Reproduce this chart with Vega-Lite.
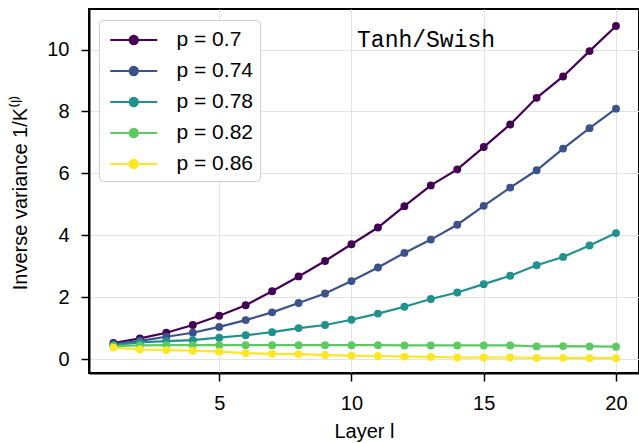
{
  "$schema": "https://vega.github.io/schema/vega-lite/v6.json",
  "width": 550,
  "height": 364,
  "autosize": {"type": "none"},
  "padding": {"left": 89, "top": 9, "right": 0, "bottom": 70},
  "background": "white",
  "config": {
    "view": {"stroke": "black", "strokeWidth": 2},
    "font": "Liberation Sans",
    "axis": {
      "grid": true, "gridColor": "#e3e3e3", "gridWidth": 1,
      "domainColor": "black", "domainWidth": 2,
      "tickColor": "black", "tickWidth": 1.5, "tickSize": 8,
      "labelFontSize": 20, "labelColor": "black", "labelPadding": 12, "labelFont": "Liberation Sans",
      "titleFontSize": 20, "titleFontWeight": "normal", "titleColor": "black", "titleFont": "Liberation Sans"
    }
  },
  "data": {"values": [
    {"layer":1,"p":"p = 0.7","v":0.52},{"layer":2,"p":"p = 0.7","v":0.67},{"layer":3,"p":"p = 0.7","v":0.85},{"layer":4,"p":"p = 0.7","v":1.10},{"layer":5,"p":"p = 0.7","v":1.40},
    {"layer":6,"p":"p = 0.7","v":1.74},{"layer":7,"p":"p = 0.7","v":2.19},{"layer":8,"p":"p = 0.7","v":2.67},{"layer":9,"p":"p = 0.7","v":3.17},{"layer":10,"p":"p = 0.7","v":3.71},
    {"layer":11,"p":"p = 0.7","v":4.25},{"layer":12,"p":"p = 0.7","v":4.94},{"layer":13,"p":"p = 0.7","v":5.61},{"layer":14,"p":"p = 0.7","v":6.13},{"layer":15,"p":"p = 0.7","v":6.85},
    {"layer":16,"p":"p = 0.7","v":7.58},{"layer":17,"p":"p = 0.7","v":8.44},{"layer":18,"p":"p = 0.7","v":9.13},{"layer":19,"p":"p = 0.7","v":9.95},{"layer":20,"p":"p = 0.7","v":10.76},
    {"layer":1,"p":"p = 0.74","v":0.48},{"layer":2,"p":"p = 0.74","v":0.59},{"layer":3,"p":"p = 0.74","v":0.72},{"layer":4,"p":"p = 0.74","v":0.85},{"layer":5,"p":"p = 0.74","v":1.04},
    {"layer":6,"p":"p = 0.74","v":1.26},{"layer":7,"p":"p = 0.74","v":1.51},{"layer":8,"p":"p = 0.74","v":1.81},{"layer":9,"p":"p = 0.74","v":2.12},{"layer":10,"p":"p = 0.74","v":2.52},
    {"layer":11,"p":"p = 0.74","v":2.96},{"layer":12,"p":"p = 0.74","v":3.43},{"layer":13,"p":"p = 0.74","v":3.86},{"layer":14,"p":"p = 0.74","v":4.34},{"layer":15,"p":"p = 0.74","v":4.95},
    {"layer":16,"p":"p = 0.74","v":5.54},{"layer":17,"p":"p = 0.74","v":6.10},{"layer":18,"p":"p = 0.74","v":6.80},{"layer":19,"p":"p = 0.74","v":7.46},{"layer":20,"p":"p = 0.74","v":8.09},
    {"layer":1,"p":"p = 0.78","v":0.45},{"layer":2,"p":"p = 0.78","v":0.54},{"layer":3,"p":"p = 0.78","v":0.58},{"layer":4,"p":"p = 0.78","v":0.61},{"layer":5,"p":"p = 0.78","v":0.69},
    {"layer":6,"p":"p = 0.78","v":0.77},{"layer":7,"p":"p = 0.78","v":0.87},{"layer":8,"p":"p = 0.78","v":1.00},{"layer":9,"p":"p = 0.78","v":1.10},{"layer":10,"p":"p = 0.78","v":1.27},
    {"layer":11,"p":"p = 0.78","v":1.47},{"layer":12,"p":"p = 0.78","v":1.69},{"layer":13,"p":"p = 0.78","v":1.94},{"layer":14,"p":"p = 0.78","v":2.15},{"layer":15,"p":"p = 0.78","v":2.42},
    {"layer":16,"p":"p = 0.78","v":2.69},{"layer":17,"p":"p = 0.78","v":3.03},{"layer":18,"p":"p = 0.78","v":3.30},{"layer":19,"p":"p = 0.78","v":3.67},{"layer":20,"p":"p = 0.78","v":4.07},
    {"layer":1,"p":"p = 0.82","v":0.42},{"layer":2,"p":"p = 0.82","v":0.44},{"layer":3,"p":"p = 0.82","v":0.45},{"layer":4,"p":"p = 0.82","v":0.45},{"layer":5,"p":"p = 0.82","v":0.45},
    {"layer":6,"p":"p = 0.82","v":0.45},{"layer":7,"p":"p = 0.82","v":0.45},{"layer":8,"p":"p = 0.82","v":0.45},{"layer":9,"p":"p = 0.82","v":0.45},{"layer":10,"p":"p = 0.82","v":0.45},
    {"layer":11,"p":"p = 0.82","v":0.45},{"layer":12,"p":"p = 0.82","v":0.44},{"layer":13,"p":"p = 0.82","v":0.44},{"layer":14,"p":"p = 0.82","v":0.44},{"layer":15,"p":"p = 0.82","v":0.44},
    {"layer":16,"p":"p = 0.82","v":0.44},{"layer":17,"p":"p = 0.82","v":0.41},{"layer":18,"p":"p = 0.82","v":0.42},{"layer":19,"p":"p = 0.82","v":0.41},{"layer":20,"p":"p = 0.82","v":0.40},
    {"layer":1,"p":"p = 0.86","v":0.37},{"layer":2,"p":"p = 0.86","v":0.31},{"layer":3,"p":"p = 0.86","v":0.29},{"layer":4,"p":"p = 0.86","v":0.27},{"layer":5,"p":"p = 0.86","v":0.24},
    {"layer":6,"p":"p = 0.86","v":0.19},{"layer":7,"p":"p = 0.86","v":0.17},{"layer":8,"p":"p = 0.86","v":0.16},{"layer":9,"p":"p = 0.86","v":0.13},{"layer":10,"p":"p = 0.86","v":0.11},
    {"layer":11,"p":"p = 0.86","v":0.10},{"layer":12,"p":"p = 0.86","v":0.08},{"layer":13,"p":"p = 0.86","v":0.07},{"layer":14,"p":"p = 0.86","v":0.05},{"layer":15,"p":"p = 0.86","v":0.05},
    {"layer":16,"p":"p = 0.86","v":0.05},{"layer":17,"p":"p = 0.86","v":0.04},{"layer":18,"p":"p = 0.86","v":0.04},{"layer":19,"p":"p = 0.86","v":0.03},{"layer":20,"p":"p = 0.86","v":0.03}
  ]},
  "layer": [
    {
      "mark": {"type": "line", "strokeWidth": 2.2, "point": {"filled": true, "size": 62}},
      "encoding": {
        "x": {"field": "layer", "type": "quantitative",
              "scale": {"domain": [0.076, 20.87], "nice": false, "zero": false},
              "axis": {"values": [5, 10, 15, 20], "title": "Layer l", "titleX": 275, "titleY": 64, "titleBaseline": "alphabetic", "titleAlign": "center"}},
        "y": {"field": "v", "type": "quantitative",
              "scale": {"domain": [-0.45, 11.31], "nice": false, "zero": false},
              "axis": {"values": [0, 2, 4, 6, 8, 10], "title": "Inverse variance 1/K⁽ˡ⁾", "titleX": -69, "titleY": 183, "titleAngle": -90, "titleBaseline": "middle", "titleAlign": "center"}},
        "color": {"field": "p", "type": "nominal",
                  "scale": {"domain": ["p = 0.7", "p = 0.74", "p = 0.78", "p = 0.82", "p = 0.86"],
                            "range": ["#440154", "#3b528b", "#21918c", "#5ec962", "#fde725"]},
                  "legend": {"title": null, "orient": "none", "legendX": 10, "legendY": 11,
                             "symbolType": "M-0.745,0H3.255M1.6,0A0.345,0.345,0,1,1,0.91,0A0.345,0.345,0,1,1,1.6,0Z",
                             "symbolSize": 552, "symbolStrokeWidth": 2.2,
                             "labelFontSize": 21, "labelColor": "black", "labelOffset": 44.5, "labelFont": "Liberation Sans",
                             "rowPadding": 8, "padding": 7,
                             "fillColor": "white", "strokeColor": "#cccccc", "cornerRadius": 4}}
      }
    },
    {
      "data": {"values": [{"layer": 10.21, "v": 10.08, "label": "Tanh/Swish"}]},
      "mark": {"type": "text", "font": "Liberation Mono", "fontSize": 23, "align": "left", "baseline": "alphabetic", "color": "black"},
      "encoding": {
        "x": {"field": "layer", "type": "quantitative"},
        "y": {"field": "v", "type": "quantitative"},
        "text": {"field": "label"}
      }
    }
  ]
}
